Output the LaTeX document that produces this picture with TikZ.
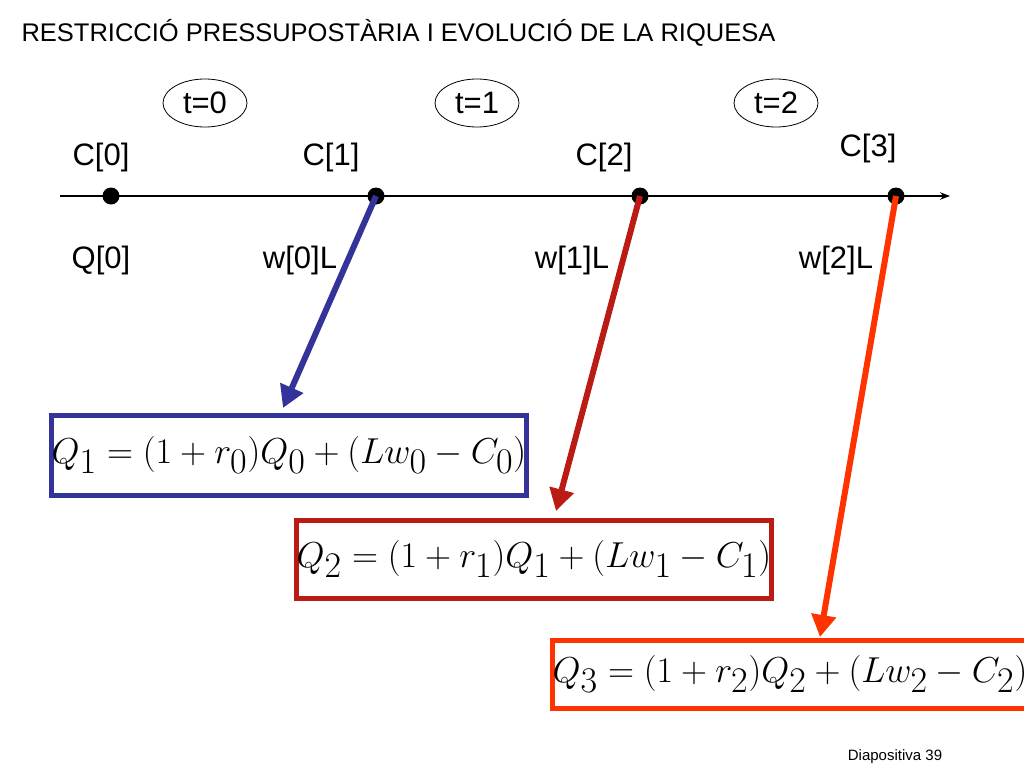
\documentclass[tikz,border=0pt]{standalone}
\usepackage{fontspec}
\setmainfont{Liberation Sans}
\usetikzlibrary{arrows.meta,shapes.geometric}
\definecolor{cblue}{RGB}{51,51,153}
\definecolor{cred}{RGB}{187,27,21}
\definecolor{corange}{RGB}{255,51,0}
\newcommand{\eqq}[1]{\scalebox{1.45}{$\displaystyle #1$}}
\begin{document}
\begin{tikzpicture}[x=1pt,y=-1pt,
  lab/.style={font=\fontsize{31}{34}\selectfont,anchor=center},
  tbox/.style={draw,line width=0.8pt,ellipse,minimum width=84pt,minimum height=48pt,inner sep=0pt,font=\fontsize{31}{34}\selectfont},
  dot/.style={circle,fill,inner sep=0pt,minimum size=17pt},
  eqbox/.style={draw,line width=5pt,inner sep=0pt,font=\fontsize{34}{40}\selectfont},
  conn/.style={line width=6pt,-{Triangle[length=22pt,width=24pt]}}]
\useasboundingbox (0,0) rectangle (1024,768);
\node[anchor=west,font=\fontsize{25.5}{28}\selectfont] (title) at (18,33) {RESTRICCIÓ PRESSUPOSTÀRIA I EVOLUCIÓ DE LA RIQUESA};
\node[tbox] (t0) at (205,103) {t=0};
\node[tbox] (t1) at (477,103) {t=1};
\node[tbox] (t2) at (776,103) {t=2};
\coordinate (a0) at (60,196); \coordinate (a1) at (950,196);
\draw[line width=1.2pt,-{Stealth[length=10pt]}] (a0) -- (a1);
\node[dot] (d0) at (111,196) {};
\node[dot] (d1) at (376,196) {};
\node[dot] (d2) at (640,196) {};
\node[dot] (d3) at (896,196) {};
\node[lab] (c0) at (101,157) {C[0]};
\node[lab] (c1) at (331,157) {C[1]};
\node[lab] (c2) at (604,157) {C[2]};
\node[lab] (c3) at (868,148) {C[3]};
\node[lab] (q0) at (101,260) {Q[0]};
\node[lab] (w0) at (300,260) {w[0]L};
\node[lab] (w1) at (572,260) {w[1]L};
\node[lab] (w2) at (836,260) {w[2]L};
\node[eqbox,draw=cblue,minimum width=446pt,minimum height=80pt] (e1) at (289,455) {\eqq{Q_1 = (1+r_0)Q_0 + \Bigl(Lw_0 - C_0\Bigr)}};
\node[eqbox,draw=cred,minimum width=456pt,minimum height=78pt] (e2) at (534,559) {\eqq{Q_2 = (1+r_1)Q_1 + \Bigl(Lw_1 - C_1\Bigr)}};
\node[eqbox,draw=corange,minimum width=459pt,minimum height=68pt] (e3) at (790,674) {\eqq{Q_3 = (1+r_2)Q_2 + \Bigl(Lw_2 - C_2\Bigr)}};
\coordinate (e1t) at (283,408);
\coordinate (e2t) at (556,511);
\coordinate (e3t) at (820,637);
\draw[conn,cblue] (d1.center) -- (e1t);
\draw[conn,cred] (d2.center) -- (e2t);
\draw[conn,corange] (d3.center) -- (e3t);
\node[font=\fontsize{15}{17}\selectfont] (foot) at (895,757) {Diapositiva 39};
\end{tikzpicture}
\end{document}
